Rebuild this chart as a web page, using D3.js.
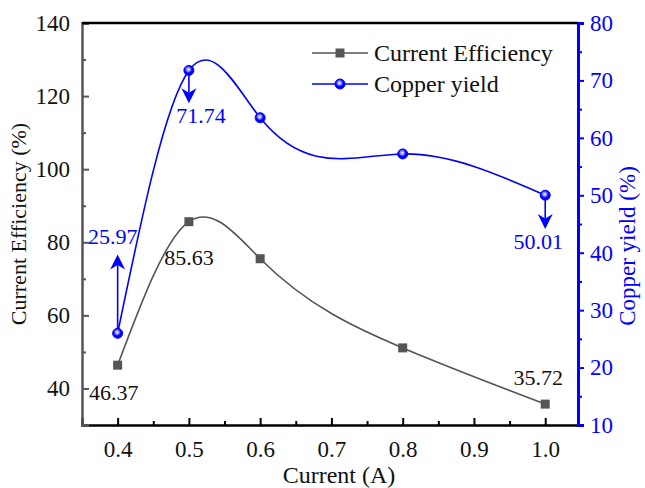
<!DOCTYPE html>
<html>
<head>
<meta charset="utf-8">
<script src="https://cdn.jsdelivr.net/npm/d3@7"></script>
<style>
  body { margin: 0; background: #fff; }
  svg text { font-family: "Liberation Serif", "Tinos", "Times New Roman", "DejaVu Serif", "Noto Serif", serif !important; }
</style>
</head>
<body>
<div id="container"></div>
<script>
// data
const currents = [0.4, 0.5, 0.6, 0.8, 1.0];
const efficiency = [46.37, 85.63, 75.5, 51.1, 35.72];
const copperYield = [25.97, 71.74, 63.5, 57.2, 50.01];
const xTicks = [0.4, 0.5, 0.6, 0.7, 0.8, 0.9, 1.0];
const leftTicks = [40, 60, 80, 100, 120, 140];
const rightTicks = [10, 20, 30, 40, 50, 60, 70, 80];
// labelled points: index, text, arrow length in yield units (0 = no arrow)
const yieldNotes = [[0, "25.97", 13.7], [1, "71.74", -5.7], [4, "50.01", -5.9]];
const effNotes = [[0, "46.37"], [1, "85.63"], [4, "35.72"]];

const W = 645, H = 488;
const margin = {top: 23, right: 67, bottom: 63, left: 82},
      width = W - margin.left - margin.right,
      height = H - margin.top - margin.bottom;

const BLUE = "#0000ff", GREY = "#555555";

// natural cubic spline of y over x (like Origin's "Spline" connect), drawn as exact bezier pieces
function curveSplineX(context) {
  let pts;
  return {
    areaStart() {}, areaEnd() {},
    lineStart() { pts = []; },
    point(x, y) { pts.push([+x, +y]); },
    lineEnd() {
      const n = pts.length;
      if (!n) return;
      if (n < 3) { context.moveTo(pts[0][0], pts[0][1]); pts.slice(1).forEach(p => context.lineTo(p[0], p[1])); return; }
      const h = [], M = new Array(n).fill(0);
      for (let i = 0; i < n - 1; i++) h.push(pts[i + 1][0] - pts[i][0]);
      // tridiagonal solve for second derivatives, M[0] = M[n-1] = 0
      const a = [], b = [], c = [], d = [];
      for (let i = 1; i < n - 1; i++) {
        a.push(h[i - 1]); b.push(2 * (h[i - 1] + h[i])); c.push(h[i]);
        d.push(6 * ((pts[i + 1][1] - pts[i][1]) / h[i] - (pts[i][1] - pts[i - 1][1]) / h[i - 1]));
      }
      const m = b.length;
      for (let i = 1; i < m; i++) {
        const w = a[i] / b[i - 1];
        b[i] -= w * c[i - 1]; d[i] -= w * d[i - 1];
      }
      const sol = new Array(m);
      sol[m - 1] = d[m - 1] / b[m - 1];
      for (let i = m - 2; i >= 0; i--) sol[i] = (d[i] - c[i] * sol[i + 1]) / b[i];
      for (let i = 0; i < m; i++) M[i + 1] = sol[i];
      context.moveTo(pts[0][0], pts[0][1]);
      for (let i = 0; i < n - 1; i++) {
        const [x0, y0] = pts[i], [x1, y1] = pts[i + 1], hh = h[i];
        const s = (y1 - y0) / hh;
        const m0 = s - hh * (2 * M[i] + M[i + 1]) / 6;
        const m1 = s + hh * (M[i] + 2 * M[i + 1]) / 6;
        context.bezierCurveTo(x0 + hh / 3, y0 + m0 * hh / 3, x1 - hh / 3, y1 - m1 * hh / 3, x1, y1);
      }
    }
  };
}

const svg = d3.select("#container").append("svg")
  .attr("width", W)
  .attr("height", H);

const defs = svg.append("defs");
const grad = defs.append("radialGradient").attr("id", "ball")
  .attr("cx", "45%").attr("cy", "40%").attr("r", "60%");
grad.append("stop").attr("offset", "0%").attr("stop-color", "#ffffff");
grad.append("stop").attr("offset", "35%").attr("stop-color", "#8080ff");
grad.append("stop").attr("offset", "60%").attr("stop-color", BLUE);
grad.append("stop").attr("offset", "100%").attr("stop-color", BLUE);

const g = svg.append("g")
  .attr("transform", `translate(${margin.left},${margin.top})`);

const x = d3.scaleLinear().domain([0.35, 1.046]).range([0, width]);
const yL = d3.scaleLinear().domain([30, 140]).range([height, 0]);
const yR = d3.scaleLinear().domain([10, 80]).range([height, 0]);

const effData = currents.map((c, i) => ({x: c, y: efficiency[i]}));
const yieldData = currents.map((c, i) => ({x: c, y: copperYield[i]}));

// curves
g.append("path")
  .datum(effData)
  .attr("fill", "none")
  .attr("stroke", GREY)
  .attr("stroke-width", 1.6)
  .attr("d", d3.line().x(d => x(d.x)).y(d => yL(d.y)).curve(curveSplineX));

g.append("path")
  .datum(yieldData)
  .attr("fill", "none")
  .attr("stroke", BLUE)
  .attr("stroke-width", 1.6)
  .attr("d", d3.line().x(d => x(d.x)).y(d => yR(d.y)).curve(curveSplineX));

// arrows from the yield points
yieldNotes.forEach(([i, txt, len]) => {
  if (!len) return;
  const px = x(currents[i]);
  const y0 = yR(copperYield[i]);
  const y1 = yR(copperYield[i] + len);
  const dir = y1 < y0 ? 1 : -1;   // 1 = tip above
  const head = 15, half = 7.5;
  g.append("line")
    .attr("x1", px).attr("x2", px)
    .attr("y1", y0).attr("y2", y1 + dir * head * 0.7)
    .attr("stroke", BLUE).attr("stroke-width", 1.6);
  g.append("path")
    .attr("d", `M${px},${y1} L${px - half},${y1 + dir * head} L${px},${y1 + dir * head * 0.7} L${px + half},${y1 + dir * head} Z`)
    .attr("fill", BLUE);
});

// markers
g.selectAll(".sq")
  .data(effData)
  .enter().append("rect")
  .attr("x", d => x(d.x) - 4.5)
  .attr("y", d => yL(d.y) - 4.5)
  .attr("width", 9).attr("height", 9)
  .attr("fill", GREY);

g.selectAll(".ball")
  .data(yieldData)
  .enter().append("circle")
  .attr("cx", d => x(d.x))
  .attr("cy", d => yR(d.y))
  .attr("r", 5)
  .attr("fill", "url(#ball)")
  .attr("stroke", BLUE)
  .attr("stroke-width", 1);

// value labels
const noteOffsets = {"25.97": [-5, -89], "71.74": [12, 53], "50.01": [-7, 54],
                     "46.37": [-4, 35], "85.63": [0, 43], "35.72": [-7, -19]};
yieldNotes.forEach(([i, txt]) => {
  const o = noteOffsets[txt];
  g.append("text")
    .attr("x", x(currents[i]) + o[0])
    .attr("y", yR(copperYield[i]) + o[1])
    .attr("text-anchor", "middle")
    .style("font-size", "22px")
    .style("fill", BLUE)
    .text(txt);
});
effNotes.forEach(([i, txt]) => {
  const o = noteOffsets[txt];
  g.append("text")
    .attr("x", x(currents[i]) + o[0])
    .attr("y", yL(efficiency[i]) + o[1])
    .attr("text-anchor", "middle")
    .style("font-size", "22px")
    .style("fill", "#111")
    .text(txt);
});

// axes
const xAxis = g.append("g")
  .attr("transform", `translate(0,${height})`)
  .call(d3.axisBottom(x).tickValues(xTicks).tickSize(-7).tickPadding(16).tickFormat(d3.format(".1f")));
const xMinor = g.append("g")
  .attr("transform", `translate(0,${height})`)
  .call(d3.axisBottom(x).tickValues(d3.range(0.45, 1.0, 0.1)).tickSize(-4).tickFormat(""))
  .call(a => a.select(".domain").remove());
xAxis.select(".domain").attr("stroke", "#000").attr("stroke-width", 2.5);
xAxis.selectAll(".tick line").attr("stroke", "#000").attr("stroke-width", 2);
xMinor.selectAll(".tick line").attr("stroke", "#000").attr("stroke-width", 2);

const leftAxis = g.append("g")
  .call(d3.axisLeft(yL).tickValues(leftTicks).tickSize(-7).tickPadding(12));
const leftMinor = g.append("g")
  .call(d3.axisLeft(yL).tickValues([50, 70, 90, 110, 130]).tickSize(-4).tickFormat(""))
  .call(a => a.select(".domain").remove());
leftAxis.select(".domain").attr("stroke", GREY).attr("stroke-width", 2.5);
leftAxis.selectAll(".tick line").attr("stroke", GREY).attr("stroke-width", 2);
leftMinor.selectAll(".tick line").attr("stroke", GREY).attr("stroke-width", 2);

const rightAxis = g.append("g")
  .attr("transform", `translate(${width},0)`)
  .call(d3.axisRight(yR).tickValues(rightTicks).tickSize(6).tickPadding(6));
const rightMinor = g.append("g")
  .attr("transform", `translate(${width},0)`)
  .call(d3.axisRight(yR).tickValues([15, 25, 35, 45, 55, 65, 75]).tickSize(4).tickFormat(""))
  .call(a => a.select(".domain").remove());
rightAxis.select(".domain").attr("stroke", BLUE).attr("stroke-width", 3);
rightAxis.selectAll(".tick line").attr("stroke", BLUE).attr("stroke-width", 2);
rightMinor.selectAll(".tick line").attr("stroke", BLUE).attr("stroke-width", 2);

g.selectAll(".tick text")
  .style("font-size", "23px")
  .style("fill", "#111");
rightAxis.selectAll(".tick text").style("fill", BLUE);

// top frame
g.append("line")
  .attr("x1", 0).attr("x2", width)
  .attr("y1", 0).attr("y2", 0)
  .attr("stroke", "#000").attr("stroke-width", 2.5);

// axis titles
g.append("text")
  .attr("x", width / 2 + 9)
  .attr("y", height + 58)
  .attr("text-anchor", "middle")
  .style("font-size", "24px")
  .style("fill", "#111")
  .text("Current (A)");

g.append("text")
  .attr("transform", `translate(${-56},${height / 2}) rotate(-90)`)
  .attr("text-anchor", "middle")
  .style("font-size", "22px")
  .style("fill", "#111")
  .text("Current Efficiency (%)");

g.append("text")
  .attr("transform", `translate(${width + 57},${height / 2 + 22}) rotate(-90)`)
  .attr("text-anchor", "middle")
  .style("font-size", "23px")
  .style("fill", BLUE)
  .text("Copper yield (%)");

// legend
const legend = g.append("g").attr("transform", `translate(${312 - margin.left},${53 - margin.top})`);
legend.append("line").attr("x1", 0).attr("x2", 56).attr("y1", 0).attr("y2", 0)
  .attr("stroke", GREY).attr("stroke-width", 1.6);
legend.append("rect").attr("x", 23.5).attr("y", -4.5).attr("width", 9).attr("height", 9).attr("fill", GREY);
legend.append("text").attr("x", 62).attr("y", 8).style("font-size", "24px").style("fill", "#111")
  .text("Current Efficiency");
legend.append("line").attr("x1", 0).attr("x2", 56).attr("y1", 31).attr("y2", 31)
  .attr("stroke", BLUE).attr("stroke-width", 1.6);
legend.append("circle").attr("cx", 28).attr("cy", 31).attr("r", 5)
  .attr("fill", "url(#ball)").attr("stroke", BLUE).attr("stroke-width", 1);
legend.append("text").attr("x", 62).attr("y", 39).style("font-size", "24px").style("fill", "#111")
  .text("Copper yield");
</script>
</body>
</html>
